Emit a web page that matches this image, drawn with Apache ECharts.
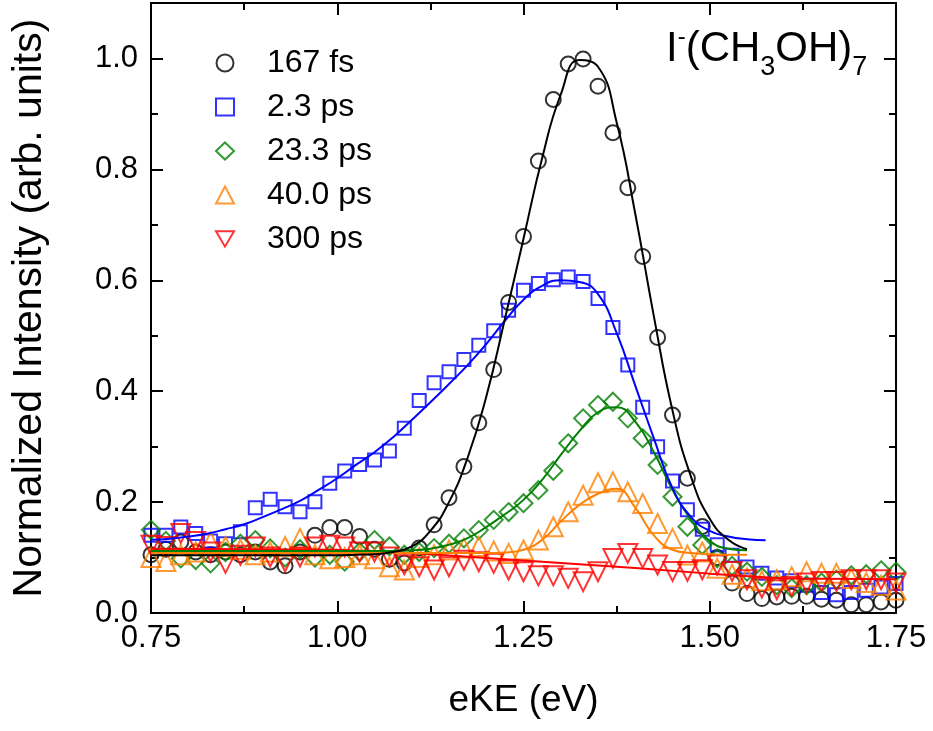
<!DOCTYPE html>
<html>
<head>
<meta charset="utf-8">
<script src="https://cdn.jsdelivr.net/npm/echarts@6/dist/echarts.min.js"></script>
<style>
html,body{margin:0;padding:0;background:#fff;}
#chart{width:933px;height:731px;}
</style>
</head>
<body>
<div id="chart"></div>
<script>
// Photoelectron energy (eV) grid of the measured points
var eKE = [0.75,0.77,0.79,0.81,0.83,0.85,0.87,0.89,0.91,0.93,0.95,0.97,0.99,1.01,1.03,1.05,1.07,1.09,1.11,1.13,1.15,1.17,1.19,1.21,1.23,1.25,1.27,1.29,1.31,1.33,1.35,1.37,1.39,1.41,1.43,1.45,1.47,1.49,1.51,1.53,1.55,1.57,1.59,1.61,1.63,1.65,1.67,1.69,1.71,1.73,1.75];

var seriesNames = ['167 fs','2.3 ps','23.3 ps','40.0 ps','300 ps'];

var d167fs = [0.105,0.115,0.128,0.11,0.105,0.11,0.105,0.11,0.092,0.085,0.11,0.14,0.154,0.154,0.138,0.115,0.097,0.09,0.117,0.159,0.208,0.264,0.343,0.439,0.56,0.679,0.815,0.926,0.99,0.999,0.95,0.866,0.767,0.643,0.497,0.357,0.243,0.156,0.1,0.054,0.035,0.026,0.029,0.03,0.03,0.025,0.023,0.015,0.015,0.02,0.023];
var d2p3ps = [0.14,0.14,0.155,0.1435,0.13,0.125,0.1465,0.19,0.205,0.1915,0.1825,0.2005,0.234,0.256,0.268,0.276,0.292,0.333,0.383,0.415,0.435,0.457,0.483,0.509,0.546,0.582,0.594,0.601,0.606,0.598,0.567,0.515,0.447,0.371,0.3,0.238,0.186,0.151,0.123,0.104,0.083,0.0715,0.063,0.058,0.05,0.037,0.033,0.037,0.041,0.047,0.053];
var d23p3ps = [0.15,0.13,0.0985,0.0955,0.0895,0.11,0.125,0.1315,0.1165,0.1,0.115,0.1,0.105,0.0925,0.11,0.1315,0.12,0.105,0.11,0.117,0.125,0.1345,0.1495,0.168,0.182,0.198,0.2215,0.2565,0.306,0.351,0.375,0.381,0.351,0.315,0.267,0.2095,0.1555,0.1225,0.0985,0.085,0.0745,0.065,0.05,0.045,0.05,0.055,0.06,0.068,0.07,0.077,0.0745];
var d40ps = [0.1,0.093,0.105,0.11,0.128,0.12,0.115,0.105,0.11,0.12,0.1345,0.105,0.098,0.1,0.105,0.098,0.0835,0.0775,0.1,0.105,0.1135,0.117,0.12,0.112,0.1075,0.1135,0.1315,0.1555,0.1825,0.2125,0.235,0.2365,0.2185,0.1975,0.1615,0.1345,0.1045,0.11,0.0805,0.07,0.063,0.058,0.06,0.0655,0.0745,0.0715,0.0715,0.062,0.055,0.05,0.0415];
var d300ps = [0.122,0.12,0.1435,0.129,0.11,0.0895,0.104,0.119,0.101,0.092,0.101,0.119,0.122,0.119,0.11,0.11,0.101,0.087,0.0835,0.0775,0.0835,0.095,0.0925,0.0895,0.0775,0.0745,0.067,0.067,0.0625,0.0565,0.0745,0.0985,0.1075,0.0985,0.0865,0.075,0.075,0.078,0.0865,0.075,0.06,0.045,0.042,0.048,0.054,0.057,0.057,0.06,0.06,0.06,0.054];

// Fit curves (x grid every 0.025 eV)
var fitX = [0.75,0.775,0.80,0.825,0.85,0.875,0.90,0.925,0.95,0.975,1.00,1.025,1.05,1.075,1.10,1.125,1.15,1.175,1.20,1.225,1.25,1.275,1.30,1.325,1.35,1.375,1.40,1.425,1.45,1.475,1.50,1.525,1.55,1.575];
var fit167fsY = [0.104,0.104,0.104,0.104,0.104,0.104,0.104,0.104,0.104,0.104,0.104,0.105,0.106,0.11,0.12,0.148,0.2,0.28,0.39,0.53,0.675,0.82,0.935,0.997,0.985,0.885,0.72,0.535,0.365,0.245,0.17,0.132,0.115];
var fit2p3psY = [0.132,0.134,0.138,0.143,0.151,0.16,0.173,0.187,0.202,0.222,0.243,0.267,0.29,0.317,0.348,0.38,0.413,0.447,0.485,0.527,0.565,0.59,0.6,0.597,0.575,0.505,0.41,0.315,0.225,0.173,0.148,0.138,0.133,0.131];
var fit23p3psY = [0.112,0.112,0.112,0.112,0.112,0.112,0.112,0.112,0.112,0.112,0.112,0.112,0.112,0.112,0.113,0.116,0.123,0.135,0.155,0.178,0.204,0.24,0.285,0.328,0.362,0.371,0.345,0.29,0.222,0.168,0.13,0.116,0.113];
var fit40psY = [0.108,0.108,0.108,0.108,0.108,0.108,0.108,0.108,0.108,0.108,0.108,0.108,0.108,0.108,0.108,0.108,0.108,0.108,0.108,0.109,0.114,0.132,0.165,0.195,0.215,0.224,0.19,0.14,0.114,0.108,0.106,0.105,0.105];
var fit300psX = [0.75,1.0,1.1,1.2,1.3,1.4,1.5,1.6,1.75];
var fit300psY = [0.116,0.114,0.108,0.099,0.09,0.081,0.071,0.062,0.061];

var yMajorTicks = [0,0.2,0.4,0.6,0.8,1.0];
var yMinorTicks = [0.1,0.3,0.5,0.7,0.9];

var colors = ['#000000','#0000ff','#008000','#ff8000','#ff0000'];
var symbols = ['circle','rect','diamond','triangle','triangle'];
var symbolSizes = [15,13,18,19,19];
var rotations = [0,0,0,0,180];
var pointData = [d167fs,d2p3ps,d23p3ps,d40ps,d300ps];
var fitXs = [fitX,fitX,fitX,fitX,fit300psX];
var fitYs = [fit167fsY,fit2p3psY,fit23p3psY,fit40psY,fit300psY];

function zip(a,b){ var out=[]; for (var k=0;k<b.length;k++){ out.push([a[k],b[k]]); } return out; }

var FONT = '"Liberation Sans", Arial, sans-serif';
var series = [];
for (var i = 0; i < 5; i++) {
  series.push({
    name: seriesNames[i], type: 'scatter', xAxisIndex: 0, yAxisIndex: 0,
    data: zip(eKE, pointData[i]),
    symbol: symbols[i], symbolSize: symbolSizes[i], symbolRotate: rotations[i],
    itemStyle: { color: 'rgba(255,255,255,0)', borderColor: colors[i], borderWidth: 2 },
    z: 3, silent: true
  });
}
for (var j = 4; j >= 0; j--) {
  series.push({
    name: 'fit ' + seriesNames[j], type: 'line', xAxisIndex: 0, yAxisIndex: 0,
    data: zip(fitXs[j], fitYs[j]), smooth: j === 4 ? false : 0.5,
    showSymbol: false, symbol: 'none',
    lineStyle: { color: colors[j], width: 2 }, z: 4, silent: true
  });
}

var legendData = seriesNames.map(function(n, k){
  var item = { name: n };
  if (k === 4) { item.icon = 'path://M0,0 L20,0 L10,17 Z'; }
  return item;
});

var option = {
  animation: false,
  backgroundColor: '#ffffff',
  grid: { left: 151, right: 37, top: 3, bottom: 118, containLabel: false },
  legend: {
    data: legendData, orient: 'vertical', left: 210, top: 42,
    itemWidth: 18, itemHeight: 17, itemGap: 12,
    textStyle: { fontSize: 32, fontFamily: FONT, color: '#000', lineHeight: 30, padding: [0,0,0,28] },
    selectedMode: false
  },
  xAxis: [
    { type: 'value', position: 'bottom', min: 0.75, max: 1.75, interval: 0.25,
      name: 'eKE (eV)', nameLocation: 'middle', nameGap: 69,
      nameTextStyle: { fontSize: 37, fontFamily: FONT, color: '#000' },
      axisLine: { show: true, onZero: false, lineStyle: { color: '#000', width: 2 } },
      axisTick: { show: true, inside: true, length: 12, lineStyle: { color: '#000', width: 2 } },
      minorTick: { show: true, splitNumber: 2, length: 7, lineStyle: { color: '#000', width: 2 } },
      axisLabel: { fontSize: 31, fontFamily: FONT, color: '#000', margin: 10,
        formatter: function(v){ return v.toFixed(2); } },
      splitLine: { show: false }, minorSplitLine: { show: false } },
    { type: 'value', position: 'top', min: 0.75, max: 1.75, interval: 0.25,
      axisLine: { show: true, onZero: false, lineStyle: { color: '#000', width: 2 } },
      axisTick: { show: true, inside: true, length: 12, lineStyle: { color: '#000', width: 2 } },
      minorTick: { show: true, splitNumber: 2, length: 7, lineStyle: { color: '#000', width: 2 } },
      axisLabel: { show: false }, splitLine: { show: false } }
  ],
  yAxis: [
    { type: 'value', position: 'left', min: 0, max: 1.1, interval: 0.2,
      name: 'Normalized Intensity (arb. units)', nameLocation: 'middle', nameGap: 101,
      nameTextStyle: { fontSize: 41, fontFamily: FONT, color: '#000' },
      axisLine: { show: true, onZero: false, lineStyle: { color: '#000', width: 2 } },
      axisTick: { show: true, inside: true, length: 12, customValues: yMajorTicks, lineStyle: { color: '#000', width: 2 } },
      axisLabel: { fontSize: 31, fontFamily: FONT, color: '#000', margin: 13, customValues: yMajorTicks,
        formatter: function(v){ return v.toFixed(1); } },
      splitLine: { show: false } },
    { type: 'value', position: 'left', min: 0, max: 1.1, interval: 0.1,
      axisLine: { show: false },
      axisTick: { show: true, inside: true, length: 7, customValues: yMinorTicks, lineStyle: { color: '#000', width: 2 } },
      axisLabel: { show: false }, splitLine: { show: false } },
    { type: 'value', position: 'right', min: 0, max: 1.1, interval: 0.2,
      axisLine: { show: true, onZero: false, lineStyle: { color: '#000', width: 2 } },
      axisTick: { show: true, inside: true, length: 12, customValues: yMajorTicks, lineStyle: { color: '#000', width: 2 } },
      axisLabel: { show: false }, splitLine: { show: false } },
    { type: 'value', position: 'right', min: 0, max: 1.1, interval: 0.1,
      axisLine: { show: false },
      axisTick: { show: true, inside: true, length: 7, customValues: yMinorTicks, lineStyle: { color: '#000', width: 2 } },
      axisLabel: { show: false }, splitLine: { show: false } }
  ],
  graphic: [
    { type: 'text', left: 666, top: 25, z: 10,
      style: {
        text: '{a|I}{sup|-}{a|(CH}{sub|3}{a|OH)}{sub|7}',
        fill: '#000',
        rich: {
          a: { fontSize: 42, fontFamily: FONT, fill: '#000', lineHeight: 48, verticalAlign: 'middle' },
          sup: { fontSize: 24, fontFamily: FONT, fill: '#000', lineHeight: 48, verticalAlign: 'top' },
          sub: { fontSize: 27, fontFamily: FONT, fill: '#000', lineHeight: 48, verticalAlign: 'bottom', padding: [0,0,-8,0] }
        }
      } }
  ],
  series: series
};

var chart = echarts.init(document.getElementById('chart'), null, { renderer: 'canvas' });
chart.setOption(option);
</script>
</body>
</html>
